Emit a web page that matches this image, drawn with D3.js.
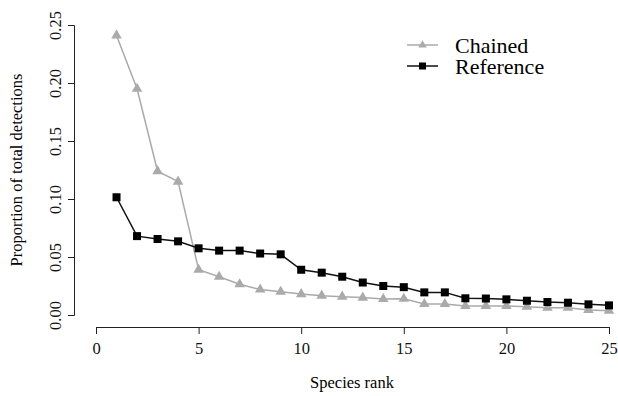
<!DOCTYPE html>
<html>
<head>
<meta charset="utf-8">
<script src="https://cdn.jsdelivr.net/npm/d3@7"></script>
<style>
  body { margin: 0; background: #fff; }
</style>
</head>
<body>
<svg id="chart" width="618" height="396"></svg>
<script>
// species rank 1..25
const ranks = d3.range(1, 26);
const chained = [0.241, 0.195, 0.124, 0.115, 0.039, 0.033, 0.0265, 0.022, 0.020, 0.018,
  0.0167, 0.0158, 0.015, 0.0138, 0.014, 0.0095, 0.0095, 0.0078, 0.0078, 0.0078,
  0.0072, 0.0063, 0.0063, 0.0043, 0.0037];
const reference = [0.1015, 0.068, 0.0655, 0.0635, 0.0575, 0.0555, 0.0555, 0.053, 0.0523, 0.039,
  0.0365, 0.033, 0.028, 0.025, 0.024, 0.0195, 0.0195, 0.0144, 0.0142, 0.0135,
  0.0123, 0.0112, 0.0106, 0.0092, 0.0083];
const xTicks = [0, 5, 10, 15, 20, 25];
const yTicks = [0, 0.05, 0.10, 0.15, 0.20, 0.25];

const serif = '"Liberation Serif", "Times New Roman", "DejaVu Serif", serif';
const svg = d3.select('#chart').attr('font-family', serif);

const x = d3.scaleLinear().domain([0, 25]).range([96, 609]);
const y = d3.scaleLinear().domain([0, 0.25]).range([315, 25]);

// x axis (R style, detached)
const xAxis = svg.append('g')
  .attr('transform', 'translate(0,327)')
  .call(d3.axisBottom(x).tickValues(xTicks).tickSize(7).tickPadding(8).tickFormat(d3.format('d')));
xAxis.attr('font-family', serif).attr('font-size', 16.5);

// y axis
const yAxis = svg.append('g')
  .attr('transform', 'translate(74,0)')
  .call(d3.axisLeft(y).tickValues(yTicks).tickSize(6).tickFormat(d3.format('.2f')));
yAxis.attr('font-family', serif).attr('font-size', 16.5);
// rotated labels, as R draws them
yAxis.selectAll('.tick text')
  .attr('x', 0).attr('y', 0).attr('dy', 0)
  .attr('text-anchor', 'middle')
  .attr('transform', 'translate(-13,0) rotate(-90)');

svg.selectAll('.domain').attr('stroke', '#222');
svg.selectAll('.tick line').attr('stroke', '#222');
svg.selectAll('.tick text').attr('fill', '#111');

// axis titles
svg.append('text')
  .attr('x', 352).attr('y', 388)
  .attr('text-anchor', 'middle')
  .attr('font-size', 16.5)
  .text('Species rank');
svg.append('text')
  .attr('transform', 'translate(22,170) rotate(-90)')
  .attr('text-anchor', 'middle')
  .attr('font-size', 16.5)
  .text('Proportion of total detections');

const grey = '#aaaaaa';
const line = d3.line().x((d, i) => x(ranks[i])).y(d => y(d));
const tri = d3.symbol().type(d3.symbolTriangle).size(48);

// chained series
svg.append('path').datum(chained)
  .attr('d', line).attr('fill', 'none').attr('stroke', grey).attr('stroke-width', 1.5);
svg.selectAll('.tri').data(chained).enter()
  .append('path')
  .attr('class', 'tri')
  .attr('transform', (d, i) => `translate(${x(ranks[i])},${y(d)})`)
  .attr('d', tri).attr('fill', grey);

// reference series
svg.append('path').datum(reference)
  .attr('d', line).attr('fill', 'none').attr('stroke', '#111').attr('stroke-width', 1.5);
svg.selectAll('.sq').data(reference).enter()
  .append('rect')
  .attr('class', 'sq')
  .attr('x', (d, i) => x(ranks[i]) - 4)
  .attr('y', d => y(d) - 4)
  .attr('width', 8).attr('height', 8)
  .attr('fill', '#000');

// legend
const legend = svg.append('g');
const legTri = d3.symbol().type(d3.symbolTriangle).size(30);
legend.append('line').attr('x1', 407).attr('x2', 438).attr('y1', 45).attr('y2', 45)
  .attr('stroke', grey).attr('stroke-width', 1.5);
legend.append('path').attr('transform', 'translate(422.5,45)').attr('d', legTri).attr('fill', grey);
legend.append('text').attr('x', 455).attr('y', 53).attr('font-size', 22).text('Chained');
legend.append('line').attr('x1', 407).attr('x2', 438).attr('y1', 66).attr('y2', 66)
  .attr('stroke', '#111').attr('stroke-width', 1.5);
legend.append('rect').attr('x', 419).attr('y', 62.5).attr('width', 7).attr('height', 7).attr('fill', '#000');
legend.append('text').attr('x', 455).attr('y', 73.5).attr('font-size', 22).text('Reference');
</script>
</body>
</html>
